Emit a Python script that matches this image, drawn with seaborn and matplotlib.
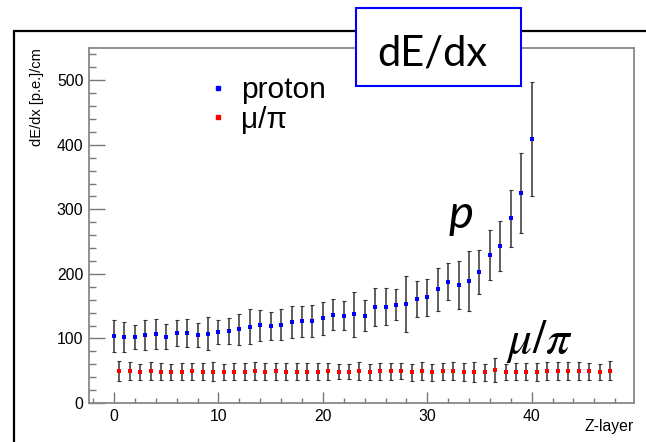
import numpy as np
import pandas as pd
import seaborn as sns
import matplotlib.pyplot as plt
from matplotlib.lines import Line2D
from matplotlib.patches import Rectangle
from matplotlib.ticker import MultipleLocator

# proton: one point per Z-layer 0..40
z_proton = list(range(41))
dedx_proton = [104, 102, 102, 105, 107, 103, 109, 108.5, 106, 107.5,
               110, 111, 114, 118.5, 120.5, 119.5, 121.5, 125.5, 126.5, 127.5,
               131, 137, 135.5, 137.5, 135.5, 148.5, 149.5, 152, 153, 161,
               163.5, 176, 188, 183, 189, 202.5, 229, 243.5, 286, 326, 409]
err_proton = [25, 23.5, 19, 23, 23, 20, 20, 22, 18.5, 26,
              19, 20, 24, 27, 24, 22, 23.5, 25, 23.5, 25,
              25, 24, 22, 35, 23.5, 29, 28.5, 24, 43, 28.5,
              28.5, 33, 29, 37.5, 47, 34, 38.5, 39, 44, 62, 88]

# mu/pi: points sit between layers, 0.5..47.5
z_mupi = [i + 0.5 for i in range(48)]
dedx_mupi = [49.7, 49.2, 48.1, 49.7, 48.7, 48.1, 48.7, 49.2, 48.7, 48.7,
             48.1, 48.7, 48.7, 49.7, 48.7, 49.2, 48.7, 48.7, 48.7, 48.7,
             49.2, 48.7, 48.7, 49.2, 48.1, 49.2, 49.2, 49.7, 47.6, 49.7,
             47.6, 49.2, 49.7, 48.1, 47.6, 47.6, 51.2, 48.1, 48.7, 48.7,
             48.7, 49.2, 49.2, 49.7, 49.2, 49.2, 47.6, 50.2]
err_mupi = [15.5, 14, 13, 13.4, 13.7, 12.4, 13.4, 13.2, 12.7, 14.7,
            11.9, 12.7, 13.7, 14, 12.9, 12.9, 12.9, 12.9, 13.4, 12.9,
            12.9, 11.6, 11.6, 13.7, 12.9, 13.2, 13.4, 12.9, 13.4, 13.4,
            13.4, 13.4, 13.4, 14, 15.2, 12.9, 18.9, 12.9, 13.4, 13.4,
            13.9, 14, 14, 14, 14, 12.9, 12.4, 14.5]

df_p = pd.DataFrame({"z": z_proton, "dedx": dedx_proton, "err": err_proton})
df_m = pd.DataFrame({"z": z_mupi, "dedx": dedx_mupi, "err": err_mupi})

sns.set_style("white")
plt.rcParams["font.family"] = ["Liberation Sans", "DejaVu Sans"]
plt.rcParams["text.color"] = "black"
plt.rcParams["axes.labelcolor"] = "black"
plt.rcParams["xtick.labelcolor"] = "black"
plt.rcParams["ytick.labelcolor"] = "black"

W, H = 646, 442
fig = plt.figure(figsize=(W / 100, H / 100), dpi=100)
ax = fig.add_axes([89 / W, 1 - 403 / H, (634 - 89) / W, (403 - 48) / H])

# error bars first, markers on top
ax.errorbar(df_p["z"], df_p["dedx"], yerr=df_p["err"], fmt="none",
            ecolor="#333333", elinewidth=1.1, capsize=1.6, capthick=0.8, zorder=2)
ax.errorbar(df_m["z"], df_m["dedx"], yerr=df_m["err"], fmt="none",
            ecolor="#333333", elinewidth=1.1, capsize=1.6, capthick=0.8, zorder=2)
sns.scatterplot(data=df_p, x="z", y="dedx", ax=ax, marker="s", s=10,
                color="#0000ff", linewidth=0, zorder=3, legend=False)
sns.scatterplot(data=df_m, x="z", y="dedx", ax=ax, marker="s", s=6,
                color="#ff0000", linewidth=0, zorder=3, legend=False)

ax.set_xlim(-2.4, 49.8)
ax.set_ylim(0, 550)
ax.xaxis.set_major_locator(MultipleLocator(10))
ax.xaxis.set_minor_locator(MultipleLocator(2))
ax.yaxis.set_major_locator(MultipleLocator(100))
ax.yaxis.set_minor_locator(MultipleLocator(20))
ax.tick_params(which="both", direction="in", color="#777777", width=1.0,
               labelsize=11.3, bottom=True, left=True, top=False, right=False)
ax.tick_params(axis="y", which="major", length=11.5, pad=4)
ax.tick_params(axis="y", which="minor", length=5)
ax.tick_params(axis="x", which="major", length=8, pad=4)
ax.tick_params(axis="x", which="minor", length=3.5)
for sp in ax.spines.values():
    sp.set_color("#888888")
    sp.set_linewidth(1.3)

ax.set_ylabel("dE/dx [p.e.]/cm", fontsize=10.5, loc="top")
ax.yaxis.set_label_coords(-0.083, 1.0)
ax.set_xlabel("Z-layer", fontsize=11.3, loc="right")
ax.xaxis.set_label_coords(1.0, -0.045)

handles = [Line2D([], [], marker="s", linestyle="none", color="#0000ff", markersize=3.2),
           Line2D([], [], marker="s", linestyle="none", color="#ff0000", markersize=2.3)]
fig.legend(handles, ["proton", "\u03bc/\u03c0"], loc="center left",
           bbox_to_anchor=(195 / W, 1 - 105 / H), frameon=False, fontsize=21.5,
           handlelength=0.55, handletextpad=0.5, labelspacing=0.05, borderpad=0)

# annotations on the plot
fig.text(449 / W, 1 - 228 / H, "p", fontsize=34, style="italic",
         family=["Lato", "DejaVu Sans"], va="baseline")
fig.text(506 / W, 1 - 353 / H, r"$\mu/\pi$", fontsize=34, math_fontfamily="stix", va="baseline")

# outer canvas border
fig.add_artist(Line2D([14 / W, 14 / W], [0, 1 - 31 / H], color="black", lw=1.6))
fig.add_artist(Line2D([14 / W, 1], [1 - 31 / H, 1 - 31 / H], color="black", lw=1.6))

# title box
fig.add_artist(Rectangle((356 / W, 1 - 86 / H), (521 - 356) / W, (86 - 8) / H,
                         transform=fig.transFigure, facecolor="white",
                         edgecolor="#0000ff", lw=1.5, zorder=5))
fig.text(432 / W, 1 - 65 / H, "dE/dx", fontsize=30, family=["Lato", "DejaVu Sans"],
         ha="center", va="baseline", zorder=6)

fig.savefig("out.png", dpi=100)
